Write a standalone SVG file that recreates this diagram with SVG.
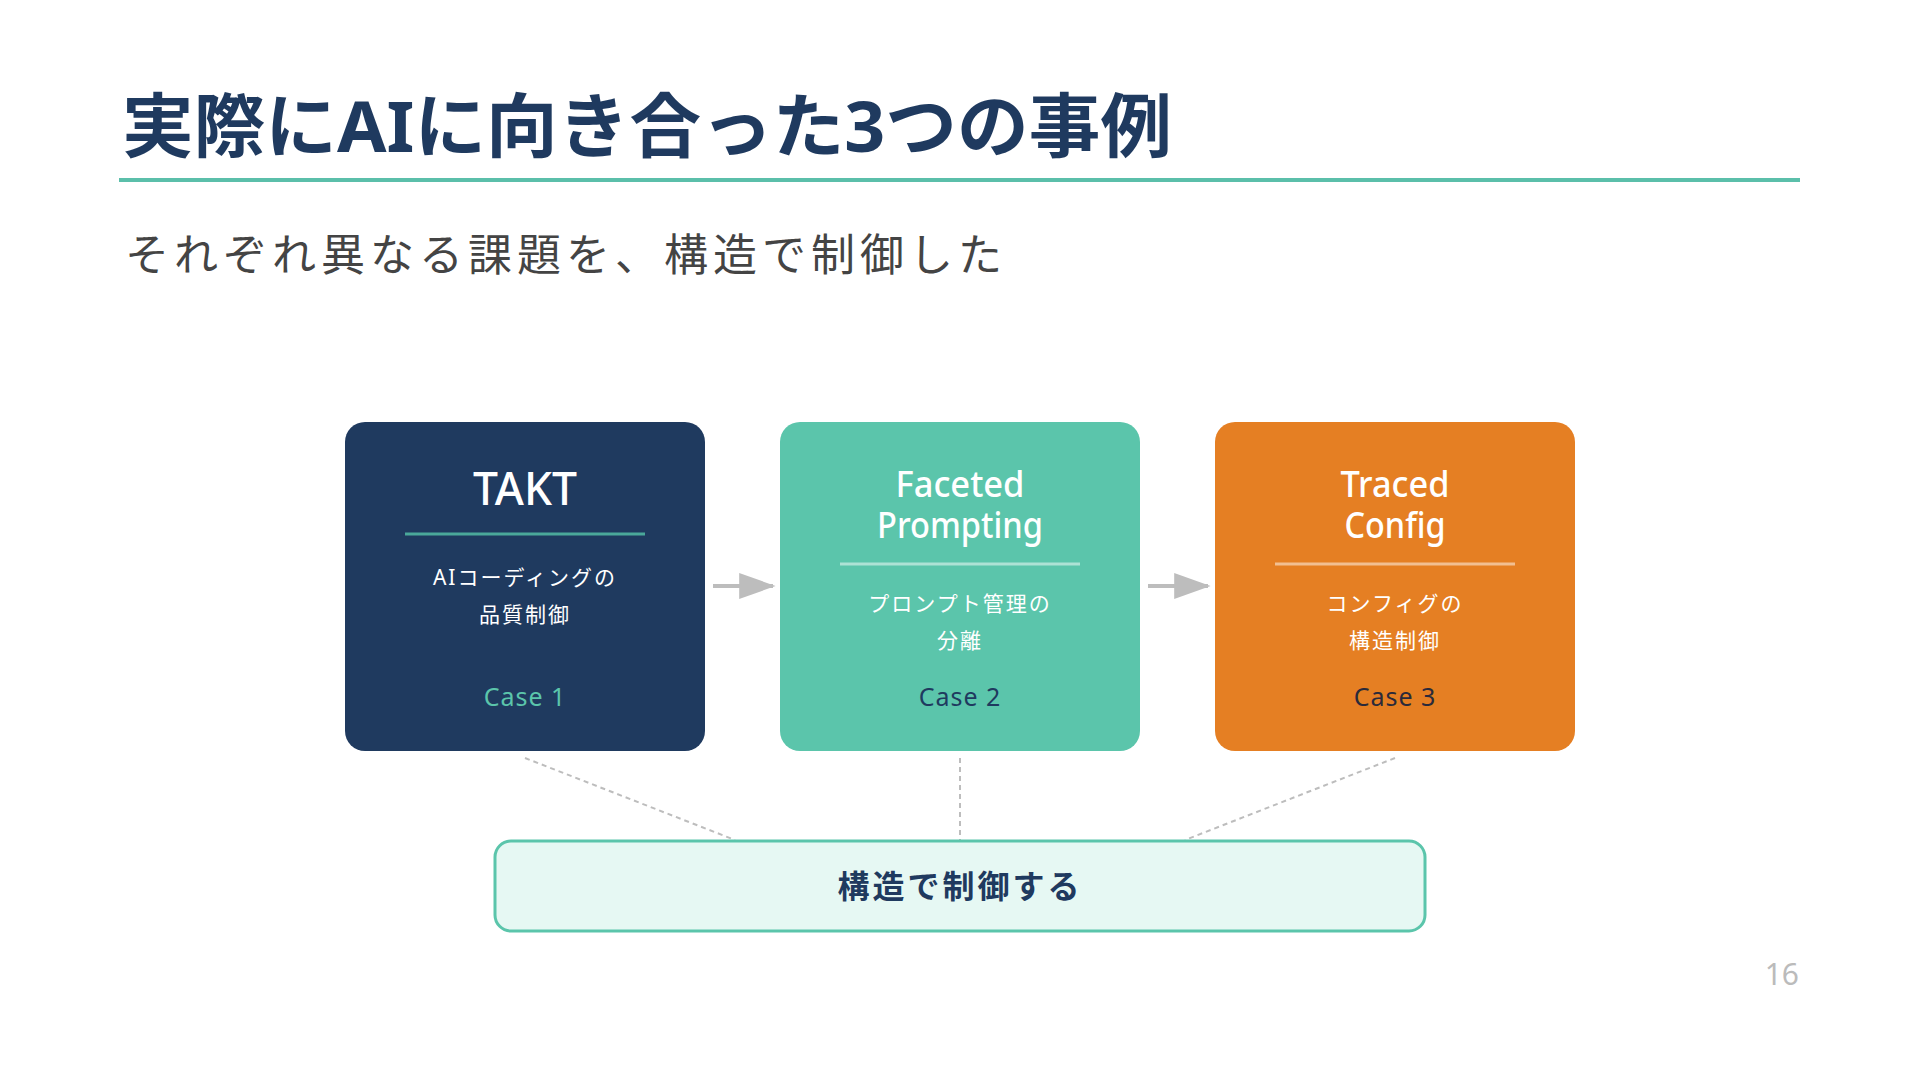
<svg xmlns="http://www.w3.org/2000/svg" width="1920" height="1080" viewBox="0 0 1920 1080">
<defs>
<style>
.jp{font-family:"Noto Sans","Noto Sans CJK JP",sans-serif;}
.title{font-size:70px;font-weight:700;fill:#1f3a5f;}
.sub{font-size:44px;fill:#444444;letter-spacing:5px;}
.box{stroke:none;}
.head{font-size:46px;font-weight:500;fill:#ffffff;text-anchor:middle;}
.head2{font-size:36px;font-weight:500;fill:#ffffff;text-anchor:middle;}
.desc{font-size:21px;fill:#ffffff;text-anchor:middle;letter-spacing:2px;}
.case{font-size:25px;text-anchor:middle;letter-spacing:1px;}
.dash{stroke:#bdbdbd;stroke-width:2;stroke-dasharray:5 4;fill:none;}
.arrow{stroke:#bdbdbd;stroke-width:4;fill:none;}
</style>
<marker id="ah" viewBox="0 0 14 10" refX="13" refY="5" markerWidth="9.5" markerHeight="6.5" markerUnits="strokeWidth" orient="auto">
<path d="M0,0 L14,5 L0,10 Z" fill="#bdbdbd"/>
</marker>
</defs>
<rect width="1920" height="1080" fill="#ffffff"/>

<g id="header">
<text class="jp title" x="122" y="152" textLength="1050" lengthAdjust="spacingAndGlyphs">実際にAIに向き合った3つの事例</text>
<line x1="119" y1="180" x2="1800" y2="180" stroke="#5bbfaa" stroke-width="4"/>
<text class="jp sub" x="125" y="271">それぞれ異なる課題を、構造で制御した</text>
</g>

<g id="connectors">
<line class="arrow" x1="713" y1="586" x2="773" y2="586" marker-end="url(#ah)"/>
<line class="arrow" x1="1148" y1="586" x2="1208" y2="586" marker-end="url(#ah)"/>
<line class="dash" x1="525" y1="758" x2="735" y2="840"/>
<line class="dash" x1="960" y1="758" x2="960" y2="840"/>
<line class="dash" x1="1395" y1="758" x2="1185" y2="840"/>
</g>

<g id="case1">
<rect class="box" x="345" y="422" width="360" height="329" rx="20" fill="#1f3a5f"/>
<text class="jp head" x="525" y="505" textLength="104" lengthAdjust="spacingAndGlyphs">TAKT</text>
<line x1="405" y1="534" x2="645" y2="534" stroke="#4aa89a" stroke-width="3"/>
<text class="jp desc" x="525" y="585">AIコーディングの</text>
<text class="jp desc" x="525" y="622">品質制御</text>
<text class="jp case" x="525" y="706" fill="#5bc5ab">Case 1</text>
</g>

<g id="case2">
<rect class="box" x="780" y="422" width="360" height="329" rx="20" fill="#5bc5ab"/>
<text class="jp head2" x="960" y="497" textLength="129" lengthAdjust="spacingAndGlyphs">Faceted</text>
<text class="jp head2" x="960" y="538" textLength="166" lengthAdjust="spacingAndGlyphs">Prompting</text>
<line x1="840" y1="564" x2="1080" y2="564" stroke="#ffffff" stroke-opacity="0.5" stroke-width="3"/>
<text class="jp desc" x="960" y="611">プロンプト管理の</text>
<text class="jp desc" x="960" y="648">分離</text>
<text class="jp case" x="960" y="706" fill="#1f3a5f">Case 2</text>
</g>

<g id="case3">
<rect class="box" x="1215" y="422" width="360" height="329" rx="20" fill="#e57f23"/>
<text class="jp head2" x="1395" y="497" textLength="109" lengthAdjust="spacingAndGlyphs">Traced</text>
<text class="jp head2" x="1395" y="538" textLength="101" lengthAdjust="spacingAndGlyphs">Config</text>
<line x1="1275" y1="564" x2="1515" y2="564" stroke="#ffffff" stroke-opacity="0.5" stroke-width="3"/>
<text class="jp desc" x="1395" y="611">コンフィグの</text>
<text class="jp desc" x="1395" y="648">構造制御</text>
<text class="jp case" x="1395" y="706" fill="#2a2a3a">Case 3</text>
</g>

<g id="summary">
<rect x="495" y="841" width="930" height="90" rx="16" fill="#e6f8f3" stroke="#5bc5ab" stroke-width="3"/>
<text class="jp" x="960" y="898" text-anchor="middle" font-size="32" font-weight="700" fill="#1f3a5f" letter-spacing="3">構造で制御する</text>
</g>

<text class="jp" x="1799" y="985" text-anchor="end" font-size="30" fill="#bbbbbb">16</text>
</svg>
